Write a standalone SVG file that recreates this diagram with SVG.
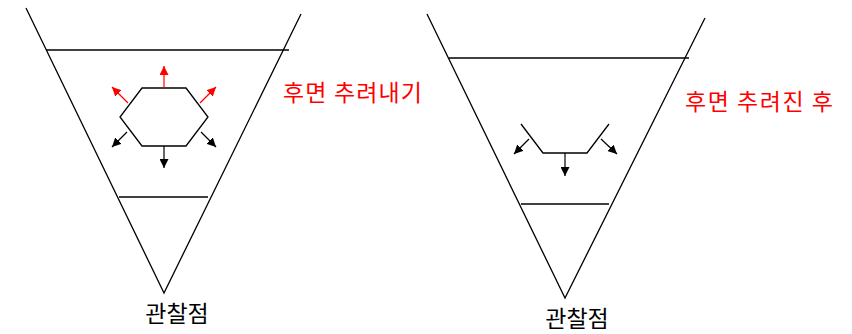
<svg xmlns="http://www.w3.org/2000/svg" width="852" height="334" viewBox="0 0 852 334">
<defs>
<style>
.ln{fill:none;stroke:#000;stroke-width:1.3}
.ar{fill:none;stroke:#000;stroke-width:1.2}
.rd{fill:none;stroke:#f00;stroke-width:1.2}
.lbl{font-family:"Noto Sans CJK KR","Noto Sans",sans-serif;font-size:23px}
.red{fill:#f00}
</style>
<marker id="ab" viewBox="0 0 10 10" refX="10" refY="5" markerWidth="9" markerHeight="9" markerUnits="userSpaceOnUse" orient="auto"><path d="M0,0L10,5L0,10z" fill="#000"/></marker>
<marker id="ar" viewBox="0 0 10 10" refX="10" refY="5" markerWidth="9" markerHeight="9" markerUnits="userSpaceOnUse" orient="auto"><path d="M0,0L10,5L0,10z" fill="#f00"/></marker>
</defs>
<g id="left-funnel">
<polyline class="ln" points="26,8 164,293 301,14"/>
<line class="ln" x1="46" y1="50" x2="289" y2="50"/>
<line class="ln" x1="119" y1="197" x2="208" y2="197"/>
</g>
<g id="hexagon">
<polygon class="ln" points="142,88 186,88 208,117 186,146 142,146 120,117"/>
</g>
<g id="right-funnel">
<polyline class="ln" points="427,14 565,298 705,18"/>
<line class="ln" x1="449" y1="58" x2="689" y2="58"/>
<line class="ln" x1="521" y1="204" x2="609" y2="204"/>
</g>
<g id="trimmed-shape">
<polyline class="ln" points="521,124 543,153 587,153 609,124"/>
</g>
<g id="connectors">
<line class="rd" x1="164" y1="88" x2="164" y2="66" marker-end="url(#ar)"/>
<line class="rd" x1="128" y1="103" x2="112" y2="87" marker-end="url(#ar)"/>
<line class="rd" x1="200" y1="103" x2="216" y2="87" marker-end="url(#ar)"/>
<line class="ar" x1="127" y1="132" x2="112" y2="147" marker-end="url(#ab)"/>
<line class="ar" x1="201" y1="132" x2="216" y2="147" marker-end="url(#ab)"/>
<line class="ar" x1="164" y1="146" x2="164" y2="168" marker-end="url(#ab)"/>
<line class="ar" x1="529" y1="139" x2="514" y2="154" marker-end="url(#ab)"/>
<line class="ar" x1="601" y1="139" x2="617" y2="154" marker-end="url(#ab)"/>
<line class="ar" x1="565" y1="153" x2="565" y2="176" marker-end="url(#ab)"/>
</g>
<g id="labels">
<text class="lbl red" x="283" y="101" textLength="139" lengthAdjust="spacing">후면 추려내기</text>
<text class="lbl red" x="685" y="110" textLength="148" lengthAdjust="spacing">후면 추려진 후</text>
<text class="lbl" x="177" y="322" text-anchor="middle">관찰점</text>
<text class="lbl" x="577" y="327" text-anchor="middle">관찰점</text>
</g>
</svg>
